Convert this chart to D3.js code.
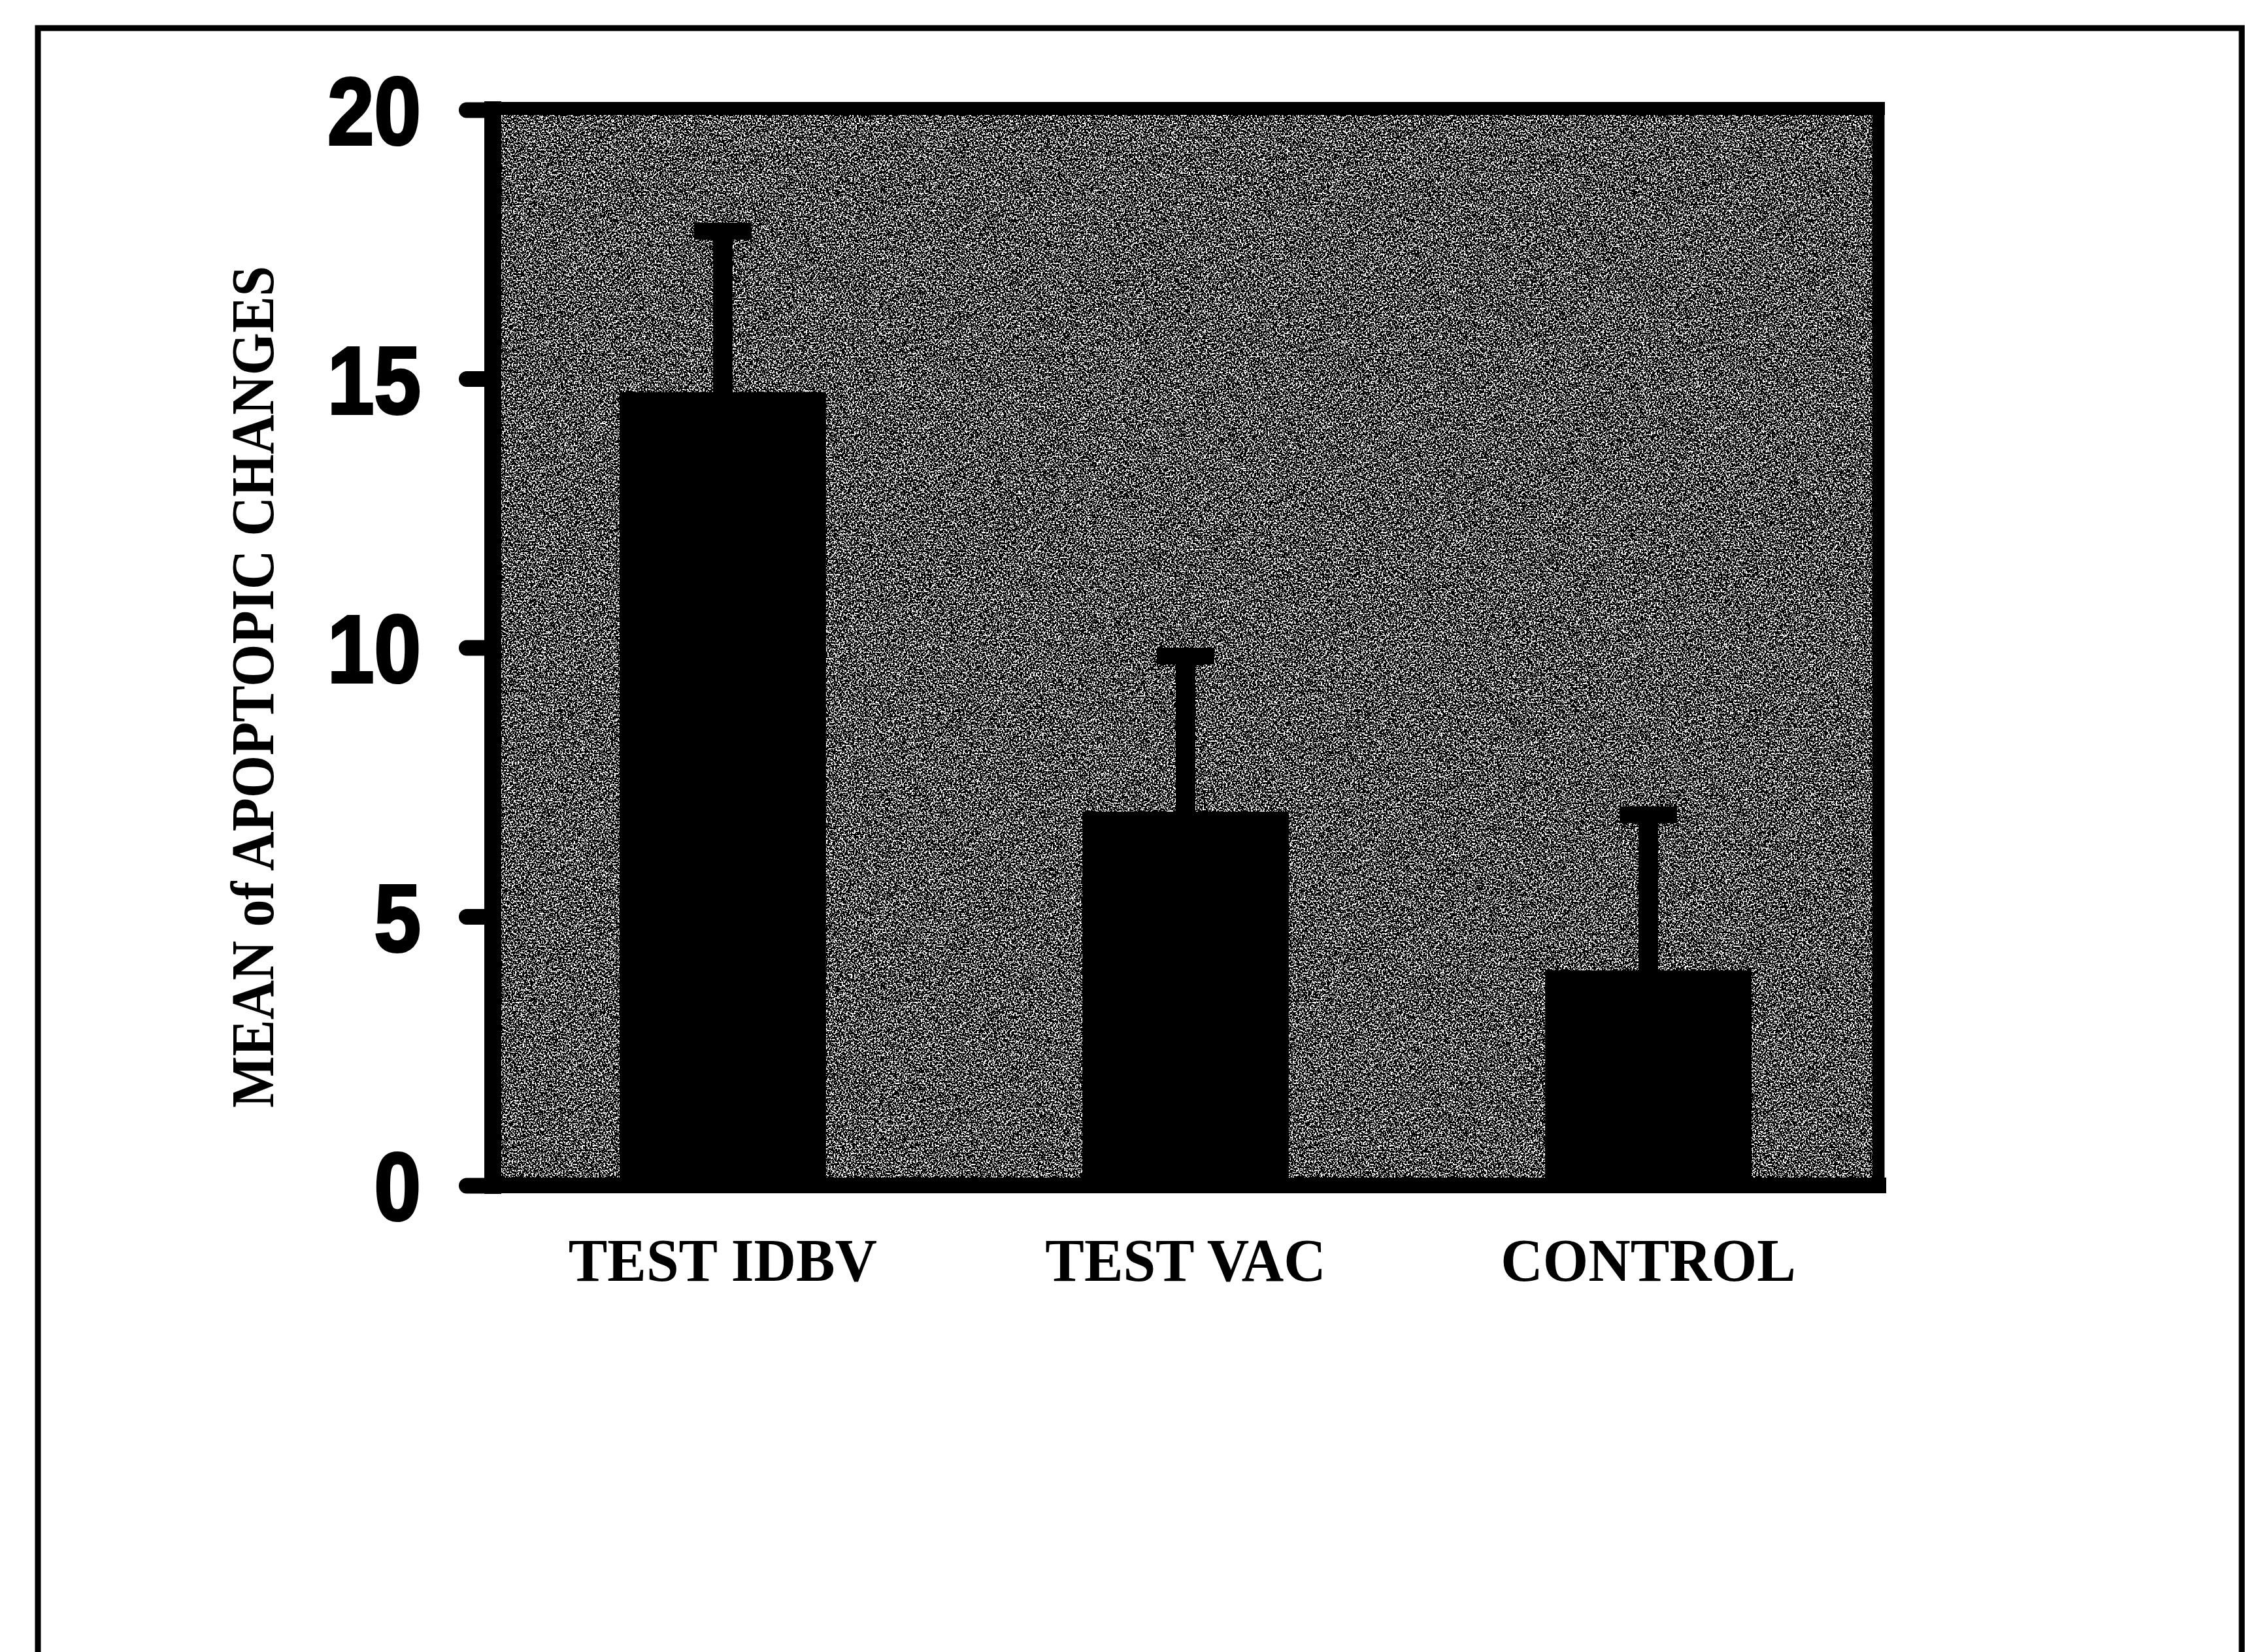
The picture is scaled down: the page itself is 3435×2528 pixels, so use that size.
<!DOCTYPE html>
<html>
<head>
<meta charset="utf-8">
<script src="https://cdn.jsdelivr.net/npm/d3@7"></script>
<style>
html, body { margin: 0; padding: 0; background: #fff; }
svg { display: block; }
.tick text { font-family: 'Liberation Sans Narrow', 'Liberation Sans', sans-serif; font-weight: bold; }
.lab { font-family: 'Liberation Serif', 'Times New Roman', serif; font-weight: bold; }
</style>
</head>
<body>
<div class="container"></div>
<script>
const width = 3435, height = 2528;

// data
const categories = ['TEST IDBV', 'TEST VAC', 'CONTROL'];
const means = [14.75, 6.95, 4.0];
const errTops = [17.9, 10.0, 7.05];
const yTicks = [0, 5, 10, 15, 20];
const yTitle = 'MEAN of APOPTOPIC CHANGES';

const plot = {left: 754, right: 2874, top: 168, bottom: 1814};

const x = d3.scaleBand()
	.domain(categories)
	.range([plot.left, plot.right])
	.paddingInner(0.554)
	.paddingOuter(0.274);

const y = d3.scaleLinear().domain([0, 20]).range([plot.bottom, plot.top]);

const svg = d3.select('.container').append('svg')
	.attr('width', width)
	.attr('height', height)
	.attr('viewBox', [0, 0, width, height]);

// stipple texture for the plot background (halftone look of the scan)
const defs = svg.append('defs');
const f = defs.append('filter').attr('id', 'stipple')
	.attr('x', 0).attr('y', 0).attr('width', 1).attr('height', 1)
	.attr('filterUnits', 'objectBoundingBox');
f.append('feTurbulence')
	.attr('type', 'fractalNoise')
	.attr('baseFrequency', 0.42)
	.attr('numOctaves', 2)
	.attr('seed', 7);
f.append('feColorMatrix')
	.attr('type', 'matrix')
	.attr('values', '1 0 0 0 0  1 0 0 0 0  1 0 0 0 0  0 0 0 0 1');
const ct = f.append('feComponentTransfer');
const tbl = '0 0 0 0 0 0 0 0 0 0 0 1 1 1 1 1 1 1 1 1';
['feFuncR', 'feFuncG', 'feFuncB'].forEach(k => {
	ct.append(k).attr('type', 'discrete').attr('tableValues', tbl);
});

// outer frame
svg.append('rect')
	.attr('x', 58).attr('y', 43)
	.attr('width', 3372).attr('height', 2600)
	.attr('fill', 'none')
	.attr('stroke', '#000')
	.attr('stroke-width', 9);

// plot background
svg.append('rect')
	.attr('x', plot.left).attr('y', plot.top)
	.attr('width', plot.right - plot.left)
	.attr('height', plot.bottom - plot.top)
	.attr('fill', '#555')
	.attr('filter', 'url(#stipple)');

// bars
svg.append('g')
	.selectAll('rect')
	.data(categories)
	.join('rect')
	.attr('x', d => x(d))
	.attr('y', (d, i) => y(means[i]))
	.attr('width', x.bandwidth())
	.attr('height', (d, i) => y(0) - y(means[i]))
	.attr('fill', '#000');

// error bars
const eb = svg.append('g').attr('fill', '#000');
categories.forEach((c, i) => {
	const cx = x(c) + x.bandwidth() / 2;
	eb.append('rect')
		.attr('x', cx - 15).attr('y', y(errTops[i]))
		.attr('width', 30).attr('height', y(means[i]) - y(errTops[i]) + 2);
	eb.append('rect')
		.attr('x', cx - 44).attr('y', y(errTops[i]))
		.attr('width', 88).attr('height', 26);
});

// frame lines of the plot box
const box = svg.append('g').attr('stroke', '#000').attr('stroke-linecap', 'square');
box.append('line').attr('x1', plot.left).attr('x2', plot.right)
	.attr('y1', plot.top - 2).attr('y2', plot.top - 2).attr('stroke-width', 20);
box.append('line').attr('x1', plot.right).attr('x2', plot.right)
	.attr('y1', plot.top).attr('y2', plot.bottom).attr('stroke-width', 19);
box.append('line').attr('x1', plot.left).attr('x2', plot.right)
	.attr('y1', plot.bottom).attr('y2', plot.bottom).attr('stroke-width', 24);
box.append('line').attr('x1', plot.left).attr('x2', plot.left)
	.attr('y1', plot.top).attr('y2', plot.bottom).attr('stroke-width', 26);

// y axis
const yAxis = svg.append('g')
	.attr('transform', 'translate(' + plot.left + ',0)')
	.call(d3.axisLeft(y).tickValues(yTicks).tickSize(40).tickPadding(70));
yAxis.select('.domain').remove();
yAxis.selectAll('.tick line')
	.attr('stroke', '#000')
	.attr('stroke-width', 24)
	.attr('stroke-linecap', 'round');
yAxis.selectAll('.tick text')
	.attr('fill', '#000')
	.attr('font-size', 146)
	.attr('dy', '0.36em')
	.attr('stroke', '#000')
	.attr('stroke-width', 4)
	.each(function() {
		const w = this.getComputedTextLength();
		d3.select(this).attr('textLength', w * 0.88).attr('lengthAdjust', 'spacingAndGlyphs');
	});

// x labels
svg.append('g')
	.selectAll('text')
	.data(categories)
	.join('text')
	.attr('class', 'lab')
	.attr('x', d => x(d) + x.bandwidth() / 2)
	.attr('y', 1960)
	.attr('text-anchor', 'middle')
	.attr('font-size', 93)
	.text(d => d)
	.each(function() {
		const w = this.getComputedTextLength();
		d3.select(this).attr('textLength', w * 0.96).attr('lengthAdjust', 'spacingAndGlyphs');
	});

// y title
svg.append('text')
	.attr('class', 'lab')
	.attr('transform', 'translate(418,1051) rotate(-90)')
	.attr('text-anchor', 'middle')
	.attr('font-size', 94)
	.text(yTitle)
	.each(function() {
		const w = this.getComputedTextLength();
		d3.select(this).attr('textLength', w * 0.89).attr('lengthAdjust', 'spacingAndGlyphs');
	});
</script>
</body>
</html>
